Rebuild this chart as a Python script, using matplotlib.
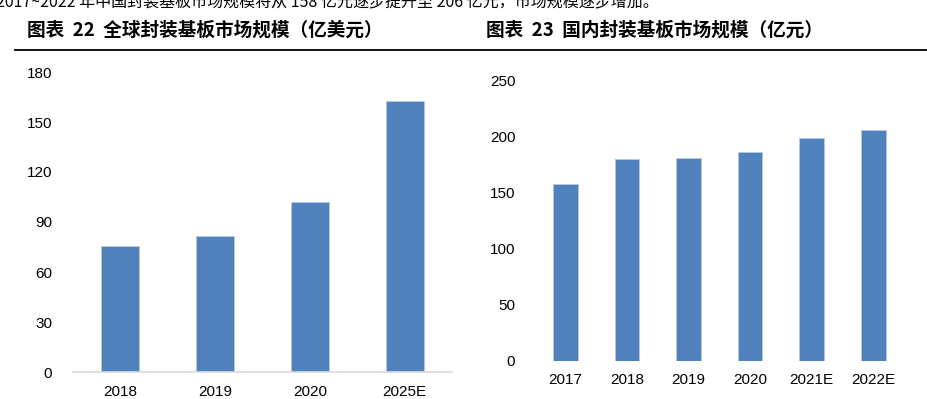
import matplotlib
matplotlib.use("Agg")
import matplotlib.pyplot as plt

plt.rcParams['font.family'] = ['Liberation Sans', 'Noto Sans CJK SC', 'DejaVu Sans']

# global packaging substrate market (100M USD)
global_years = ['2018', '2019', '2020', '2025E']
global_vals = [75.8, 81.6, 102.2, 162.4]

# domestic packaging substrate market (100M CNY)
cn_years = ['2017', '2018', '2019', '2020', '2021E', '2022E']
cn_vals = [158, 180, 181, 186, 199, 206]

bar_color = '#4F81BD'

fig = plt.figure(figsize=(9.28, 3.99), dpi=100)

# body text at the very top, cut by the page edge as in the source
fig.text(-0.004, 1 - 7.5 / 399,
         '2017~2022 年中国封装基板市场规模将从 158 亿元逐步提升至 206 亿元，市场规模逐步增加。',
         fontsize=11.5, family=['Noto Sans CJK SC', 'DejaVu Sans'],
         ha='left', va='baseline', color='#000000')

# chart titles and rule
title_font = ['Noto Sans CJK SC', 'DejaVu Sans']
fig.text(27 / 928, 1 - 30 / 399, '图表  22  全球封装基板市场规模（亿美元）',
         fontsize=13.4, fontweight='bold', family=title_font, ha='left', va='center')
fig.text(486 / 928, 1 - 30 / 399, '图表  23  国内封装基板市场规模（亿元）',
         fontsize=13.4, fontweight='bold', family=title_font, ha='left', va='center')
fig.add_artist(plt.Line2D([15 / 928, 1], [1 - 50 / 399, 1 - 50 / 399],
                          color='black', linewidth=1.3, transform=fig.transFigure))

# left chart
ax1 = fig.add_axes([73 / 928, 1 - 372 / 399, 379 / 928, 300 / 399])
ax1.bar(range(len(global_years)), global_vals, width=0.4, color=bar_color,
        edgecolor='#B7C9E2', linewidth=0.6)
ax1.set_xlim(-0.5, len(global_years) - 0.5)
ax1.set_ylim(0, 180)
ax1.set_yticks(range(0, 181, 30))
ax1.set_xticks(range(len(global_years)))
ax1.set_xticklabels(global_years)
for s in ['top', 'right', 'left']:
    ax1.spines[s].set_visible(False)
ax1.spines['bottom'].set_color('#D9D9D9')
ax1.spines['bottom'].set_linewidth(1.2)
ax1.tick_params(axis='y', length=0, pad=15, labelsize=11)
ax1.tick_params(axis='x', length=0, pad=9, labelsize=11)

# right chart
ax2 = fig.add_axes([534.7 / 928, 1 - 360.7 / 399, 369.4 / 928, 280 / 399])
ax2.bar(range(len(cn_years)), cn_vals, width=0.4, color=bar_color,
        edgecolor='#B7C9E2', linewidth=0.6)
ax2.set_xlim(-0.5, len(cn_years) - 0.5)
ax2.set_ylim(0, 250)
ax2.set_yticks(range(0, 251, 50))
ax2.set_xticks(range(len(cn_years)))
ax2.set_xticklabels(cn_years)
for s in ['top', 'right', 'left', 'bottom']:
    ax2.spines[s].set_visible(False)
ax2.tick_params(axis='y', length=0, pad=14, labelsize=11)
ax2.tick_params(axis='x', length=0, pad=9, labelsize=11)

plt.savefig('out.png', dpi=100)
